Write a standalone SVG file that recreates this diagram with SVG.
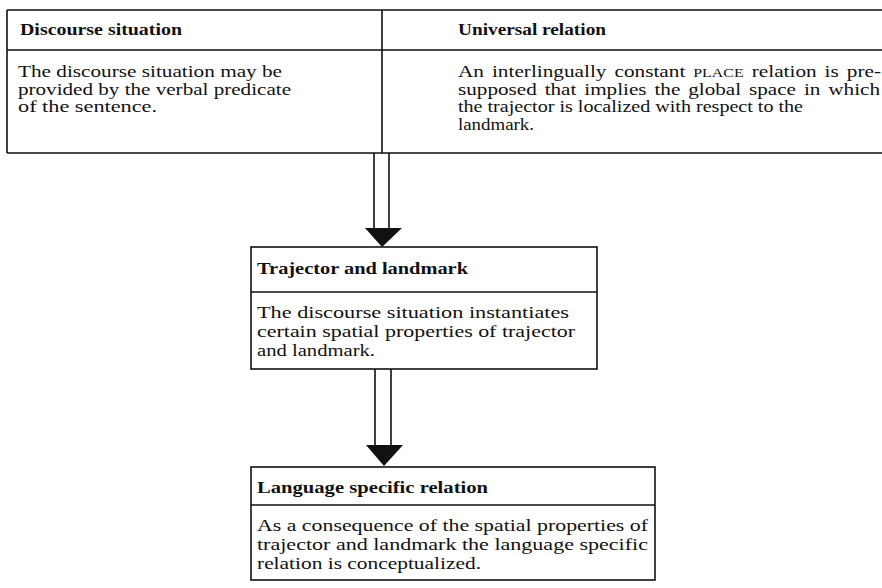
<svg xmlns="http://www.w3.org/2000/svg" width="882" height="588" viewBox="0 0 882 588">
<style>
.ln{stroke:#111;stroke-width:1.6;fill:none}
.h{font-family:"Liberation Serif","Times New Roman",serif;font-size:16px;font-weight:bold;fill:#111}
.b{font-family:"Liberation Serif","Times New Roman",serif;font-size:16px;fill:#111}
.sc{font-size:12px}
.head{fill:#111;stroke:none}
</style>
<rect width="882" height="588" fill="#fff"/>
<g id="discourse-situation">
<path class="ln" d="M7 10H382M7 50H382M7 153H382M7 10V153"/>
<text class="h" x="20" y="35" textLength="162" lengthAdjust="spacingAndGlyphs">Discourse situation</text>
<text class="b" x="18" y="77" textLength="264" lengthAdjust="spacingAndGlyphs">The discourse situation may be</text>
<text class="b" x="18" y="94.5" textLength="273" lengthAdjust="spacingAndGlyphs">provided by the verbal predicate</text>
<text class="b" x="18" y="112" textLength="139" lengthAdjust="spacingAndGlyphs">of the sentence.</text>
</g>
<g id="universal-relation">
<path class="ln" d="M382 10H882M382 50H882M382 153H882M382 10V153"/>
<text class="h" x="458" y="35" textLength="148" lengthAdjust="spacingAndGlyphs">Universal relation</text>
<text class="b" x="458" y="77" word-spacing="2" textLength="423" lengthAdjust="spacingAndGlyphs">An interlingually constant <tspan class="sc">PLACE</tspan> relation is pre-</text>
<text class="b" x="458" y="94.5" word-spacing="2" textLength="422" lengthAdjust="spacingAndGlyphs">supposed that implies the global space in which</text>
<text class="b" x="458" y="112" textLength="345" lengthAdjust="spacingAndGlyphs">the trajector is localized with respect to the</text>
<text class="b" x="458" y="129.5" textLength="76" lengthAdjust="spacingAndGlyphs">landmark.</text>
</g>
<g id="trajector-landmark">
<rect class="ln" x="251" y="247" width="346" height="122"/>
<path class="ln" d="M251 292H597"/>
<text class="h" x="257" y="274" textLength="211" lengthAdjust="spacingAndGlyphs">Trajector and landmark</text>
<text class="b" x="257" y="318" textLength="312" lengthAdjust="spacingAndGlyphs">The discourse situation instantiates</text>
<text class="b" x="257" y="337" textLength="318" lengthAdjust="spacingAndGlyphs">certain spatial properties of trajector</text>
<text class="b" x="257" y="356" textLength="118" lengthAdjust="spacingAndGlyphs">and landmark.</text>
</g>
<g id="language-specific-relation">
<rect class="ln" x="251" y="467" width="404" height="113"/>
<path class="ln" d="M251 505H655"/>
<text class="h" x="257" y="493" textLength="231" lengthAdjust="spacingAndGlyphs">Language specific relation</text>
<text class="b" x="257" y="531" textLength="391" lengthAdjust="spacingAndGlyphs">As a consequence of the spatial properties of</text>
<text class="b" x="257" y="550" textLength="391" lengthAdjust="spacingAndGlyphs">trajector and landmark the language specific</text>
<text class="b" x="257" y="569" textLength="224" lengthAdjust="spacingAndGlyphs">relation is conceptualized.</text>
</g>
<g id="connectors">
<path class="ln" d="M374 153V228M389 153V228"/>
<polygon class="head" points="365,228 402,228 382,247"/>
<path class="ln" d="M375 369V445M391 369V445"/>
<polygon class="head" points="366,445 403,445 384,466"/>
</g>
</svg>
